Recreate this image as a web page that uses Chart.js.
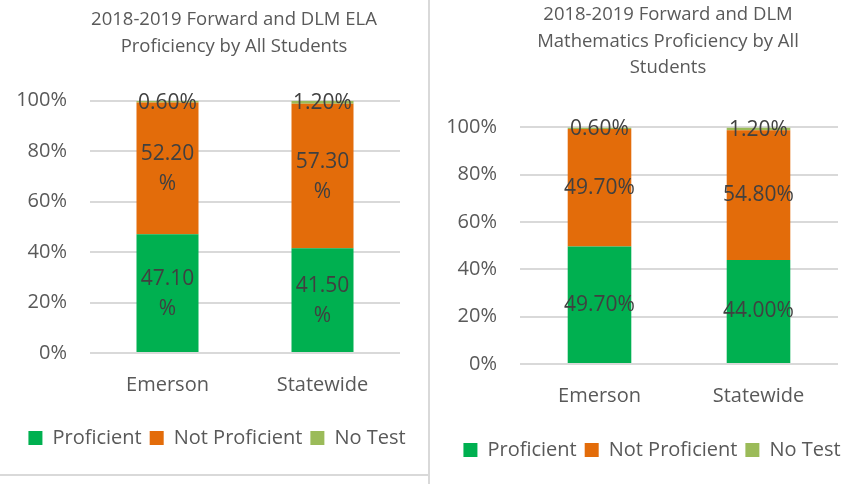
<!DOCTYPE html>
<html>
<head>
<meta charset="utf-8">
<script src="https://cdn.jsdelivr.net/npm/chart.js@4.4.0/dist/chart.umd.min.js"></script>
<style>
  body { margin: 0; background: #fff; width: 865px; height: 484px; position: relative; overflow: hidden; }
  .panel { position: absolute; }
  #leftPanel { left: 0; top: 0; width: 428px; height: 474px; border-bottom: 2px solid #d9d9d9; }
  #divider { position: absolute; left: 428px; top: 0; width: 2px; height: 484px; background: #d9d9d9; }
  #rightPanel { left: 432px; top: 0; width: 433px; height: 484px; }
</style>
</head>
<body>
<div class="panel" id="leftPanel"><canvas id="elaChart" width="426" height="472"></canvas></div>
<div id="divider"></div>
<div class="panel" id="rightPanel"><canvas id="mathChart" width="433" height="484"></canvas></div>
<script>
// categories and series (percent of students)
const schools = ['Emerson', 'Statewide'];
const seriesNames = ['Proficient', 'Not Proficient', 'No Test'];
const seriesColors = ['#00B050', '#E36C0A', '#9BBB59'];

const elaProficient = [47.1, 41.5];
const elaNotProficient = [52.2, 57.3];
const elaNoTest = [0.6, 1.2];

const mathProficient = [49.7, 44.0];
const mathNotProficient = [49.7, 54.8];
const mathNoTest = [0.6, 1.2];

const yTicks = [0, 20, 40, 60, 80, 100];

const elaTitle = ['2018-2019 Forward and DLM ELA', 'Proficiency by All Students'];
const mathTitle = ['2018-2019 Forward and DLM', 'Mathematics Proficiency by All', 'Students'];

const fontFamily = '"Open Sans", sans-serif';
const textColor = '#595959';

// draws the value in the middle of each stacked segment
const segmentLabels = {
    id: 'segmentLabels',
    afterDatasetsDraw(chart, args, opts) {
        const ctx = chart.ctx;
        ctx.save();
        ctx.font = '21px ' + fontFamily;
        ctx.fillStyle = '#404040';
        ctx.textAlign = 'center';
        ctx.textBaseline = 'middle';
        chart.data.datasets.forEach((ds, i) => {
            const meta = chart.getDatasetMeta(i);
            meta.data.forEach((bar, j) => {
                const txt = ds.data[j].toFixed(2);
                const cy = (bar.y + bar.base) / 2;
                if (opts.wrap && ds.data[j] > 5) {
                    ctx.fillText(txt, bar.x, cy - 14);
                    ctx.fillText('%', bar.x, cy + 16);
                } else {
                    ctx.fillText(txt + '%', bar.x, cy + (ds.data[j] < 5 ? 1 : 0));
                }
            });
        });
        ctx.restore();
    }
};

// nudges the title and legend boxes sideways, like the original layout
const boxShift = {
    id: 'boxShift',
    afterLayout(chart, args, opts) {
        const t = chart.titleBlock, l = chart.legend;
        t.left += opts.title; t.right += opts.title;
        l.left += opts.legend; l.right += opts.legend;
    }
};

function makeChart(id, title, proficient, notProficient, noTest, cfg) {
    const values = [proficient, notProficient, noTest];
    return new Chart(document.getElementById(id), {
        type: 'bar',
        data: {
            labels: schools,
            datasets: seriesNames.map((name, i) => ({
                label: name,
                data: values[i],
                backgroundColor: seriesColors[i],
                borderWidth: 0,
                barPercentage: 0.4,
                categoryPercentage: 1
            }))
        },
        options: {
            responsive: false,
            animation: false,
            layout: { padding: cfg.padding },
            scales: {
                x: {
                    stacked: true,
                    grid: { display: false },
                    border: { display: false },
                    afterFit: s => { s.height += cfg.xExtra; },
                    ticks: { color: textColor, font: { family: fontFamily, size: 20 }, padding: cfg.xPad }
                },
                y: {
                    stacked: true,
                    min: 0,
                    max: 100,
                    afterBuildTicks: s => { s.ticks = yTicks.map(v => ({ value: v })); },
                    afterFit: s => { s.width = cfg.yWidth; },
                    grid: { color: '#D9D9D9', lineWidth: 2, drawTicks: false },
                    border: { display: false },
                    ticks: {
                        color: textColor,
                        font: { family: fontFamily, size: 20 },
                        padding: 23,
                        callback: v => v + '%'
                    }
                }
            },
            plugins: {
                title: {
                    display: true,
                    text: title,
                    color: textColor,
                    font: { family: fontFamily, size: 18.5, weight: 'normal', lineHeight: 1.45 },
                    padding: cfg.titlePad
                },
                legend: {
                    position: 'bottom',
                    labels: {
                        color: textColor,
                        font: { family: fontFamily, size: 20 },
                        boxWidth: 14,
                        boxHeight: 14,
                        padding: 8
                    }
                },
                tooltip: { enabled: false },
                segmentLabels: { wrap: cfg.wrap },
                boxShift: cfg.shift
            }
        },
        plugins: [segmentLabels, boxShift]
    });
}

makeChart('elaChart', elaTitle, elaProficient, elaNotProficient, elaNoTest, {
    padding: { left: 0, right: 26, top: 0, bottom: 14 },
    yWidth: 90,
    xPad: 12,
    xExtra: 11,
    titlePad: { top: 6, bottom: 41 },
    shift: { title: 34, legend: 17 },
    wrap: true
});

makeChart('mathChart', mathTitle, mathProficient, mathNotProficient, mathNoTest, {
    padding: { left: 0, right: 27, top: 0, bottom: 14 },
    yWidth: 88,
    xPad: 12,
    xExtra: 12,
    titlePad: { top: 1, bottom: 46 },
    shift: { title: 33, legend: 17 },
    wrap: false
});
</script>
</body>
</html>
